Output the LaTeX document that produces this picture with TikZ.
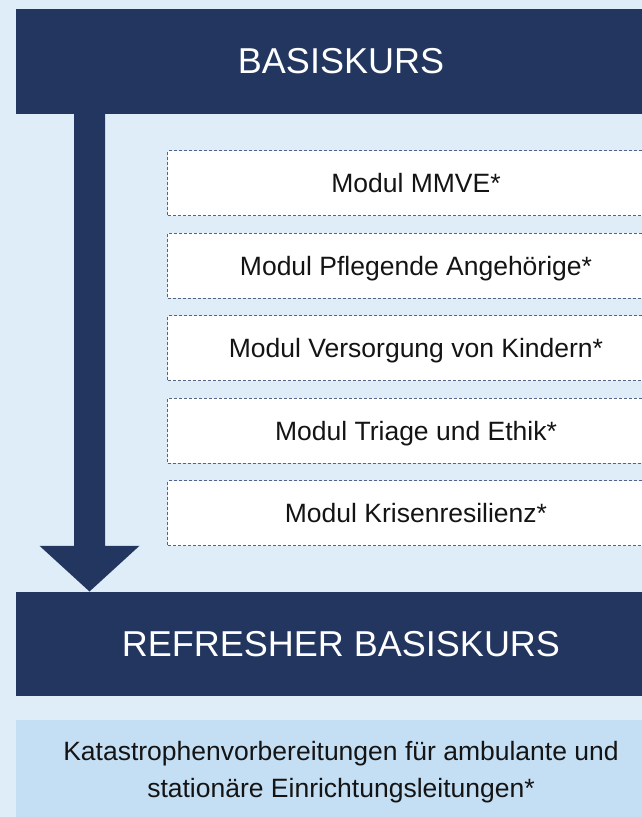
\documentclass[tikz,border=0pt]{standalone}
\usepackage{fontspec}
\setmainfont{Liberation Sans}
\usetikzlibrary{calc}
\definecolor{kursblau}{RGB}{35,54,95}
\definecolor{hellblau}{RGB}{223,237,248}
\definecolor{mittelblau}{RGB}{196,222,243}
\definecolor{strichgrau}{RGB}{84,100,134}
\definecolor{textschwarz}{RGB}{20,20,20}

\begin{document}
\begin{tikzpicture}[x=1pt, y=-1pt,
		kursbox/.style={fill=kursblau, text=white, minimum width=650pt, minimum height=104pt, inner sep=0pt, font=\fontsize{36}{43}\selectfont},
		modulbox/.style={draw=strichgrau, fill=white, line width=1.2pt, dash pattern=on 3pt off 2pt, minimum width=497pt, minimum height=65pt, inner sep=0pt, text=textschwarz, text height=18.8pt, text depth=0pt, font=\fontsize{26.5}{35}\selectfont}]
		%%%%% START %%%%%
		
		\useasboundingbox (0, 0) rectangle (642, 817);
		\fill[hellblau] (0, 0) rectangle (642, 817);
		\clip (0, 0) rectangle (642, 817);
		
		\node[kursbox, minimum height=105pt] (basis) at (341, 61.5) {BASISKURS};
		
		\node[modulbox] (mmve) at (416, 183.2) {Modul MMVE*};
		\node[modulbox] (pflege) at (416, 265.7) {Modul Pflegende Angehörige*};
		\node[modulbox] (kinder) at (416, 348.2) {Modul Versorgung von Kindern*};
		\node[modulbox] (triage) at (416, 430.7) {Modul Triage und Ethik*};
		\node[modulbox] (krise) at (416, 513.2) {Modul Krisenresilienz*};
		
		\node[kursbox] (refresher) at (341, 643.7) {REFRESHER BASISKURS};
		
		\node[fill=mittelblau, minimum width=650pt, minimum height=104pt, inner sep=0pt, align=center, text=textschwarz, font=\fontsize{26.5}{37}\selectfont] (leitung) at (341, 772) {Katastrophenvorbereitungen für ambulante und\\stationäre Einrichtungsleitungen*};
		
		\coordinate (pfeilx) at (89.5, 0);
		\fill[kursblau] ($(pfeilx |- basis.south)+(-15.5,0)$) -- ($(pfeilx |- basis.south)+(15.5,0)$) -- ($(pfeilx |- refresher.north)+(15.5,-45.7)$) -- ($(pfeilx |- refresher.north)+(50,-45.7)$) -- (pfeilx |- refresher.north) -- ($(pfeilx |- refresher.north)+(-50,-45.7)$) -- ($(pfeilx |- refresher.north)+(-15.5,-45.7)$) -- cycle;
		
		%%%%% END %%%%%
	\end{tikzpicture}
\end{document}
